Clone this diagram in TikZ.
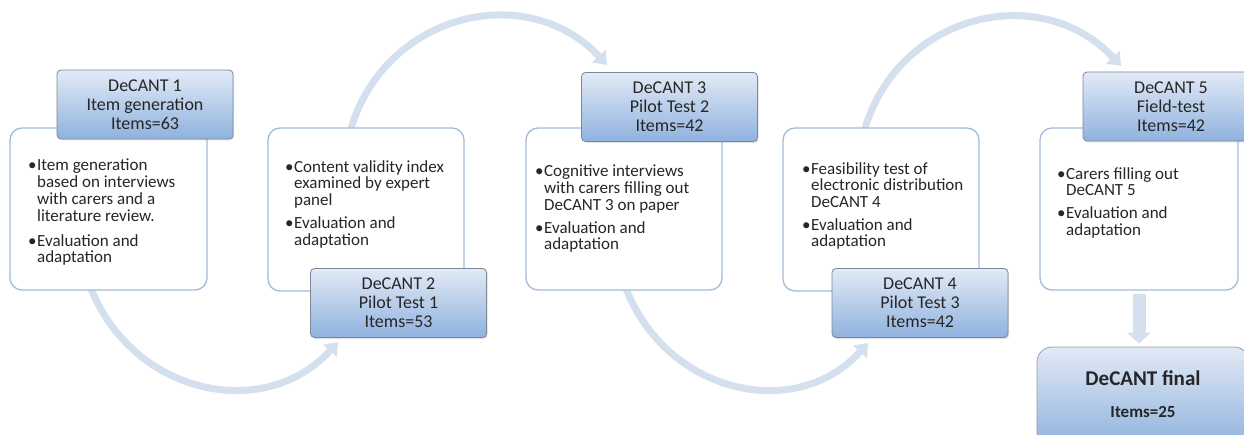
\documentclass[tikz,border=0pt]{standalone}
\usepackage{fontspec}
\setmainfont{Carlito}
\usetikzlibrary{arrows.meta,shadows}
\definecolor{arcblue}{HTML}{D5E0EF}
\definecolor{boxline}{HTML}{A3BBD8}
\definecolor{hdtop}{HTML}{E2EAF6}
\definecolor{hdbot}{HTML}{8FB2DE}
\definecolor{hdline}{HTML}{7A8898}
\definecolor{txt}{HTML}{262626}
\newcommand{\blist}[1]{\begin{tabular}{@{}l@{\hspace{0.5pt}}l@{}}#1\end{tabular}}
\tikzset{
  whitebox/.style={draw=boxline, line width=1.3pt, fill=white, rounded corners=12pt, inner sep=0pt},
  header/.style={draw=hdline, line width=0.8pt, rounded corners=4pt, top color=hdtop, bottom color=hdbot,
    minimum width=176pt, minimum height=69pt, inner sep=0pt, align=center, text=txt,
    font=\fontsize{18}{19}\selectfont,
    drop shadow={shadow xshift=1.2pt, shadow yshift=-1.5pt, opacity=0.25}},
  finalbox/.style={draw=hdline!80, line width=0.8pt, rounded corners=15pt, top color=hdtop, bottom color=hdbot,
    minimum width=212pt, minimum height=100pt, inner sep=0pt, align=center, text=txt},
  body/.style={anchor=north west, inner sep=0pt, text=txt, font=\fontsize{17}{16.6}\selectfont},
  arcarrow/.style={draw=arcblue, line width=7pt, -{Triangle[width=18pt,length=12pt]}},
  downarrow/.style={draw=arcblue, line width=13pt, -{Triangle[width=23pt,length=11pt]}},
}
\begin{document}
\begin{tikzpicture}[x=1pt,y=-1pt]
\useasboundingbox (0,0) rectangle (1244,435);
\clip (0,0) rectangle (1244,435);
\fill[white] (0,0) rectangle (1244,435);

% arc connector end points
\coordinate (s1) at (90,286);
\coordinate (t1) at (338,342);
\coordinate (s2) at (350,132);
\coordinate (t2) at (607,65);
\coordinate (s3) at (625,286);
\coordinate (t3) at (868,343);
\coordinate (s4) at (864,132);
\coordinate (t4) at (1121,66);

\draw[arcarrow] (s1) .. controls +(41.5,108) and +(-74.5,81.4) .. (t1);
\draw[arcarrow] (s2) .. controls +(32.4,-118) and +(-80.7,-86.7) .. (t2);
\draw[arcarrow] (s3) .. controls +(40.5,108) and +(-72,80) .. (t3);
\draw[arcarrow] (s4) .. controls +(32.4,-118) and +(-80.7,-86.7) .. (t4);

% white boxes
\node[whitebox, minimum width=197pt, minimum height=162pt] (b1) at (108.5,209) {};
\node[whitebox, minimum width=196pt, minimum height=163pt] (b2) at (366,209.5) {};
\node[whitebox, minimum width=196pt, minimum height=162pt] (b3) at (624,209) {};
\node[whitebox, minimum width=196pt, minimum height=163pt] (b4) at (881,209.5) {};
\node[whitebox, minimum width=198pt, minimum height=162pt] (b5) at (1139,209) {};

% body texts
\node[body] (x1) at (28,159) {\blist{\textbullet&Item generation\\&based on interviews\\&with carers and a\\&literature review.\\[8pt]\textbullet&Evaluation and\\&adaptation}};
\node[body] (x2) at (285,160) {\blist{\textbullet&Content validity index\\&examined by expert\\&panel\\[6pt]\textbullet&Evaluation and\\&adaptation}};
\node[body] (x3) at (535,165) {\blist{\textbullet&Cognitive interviews\\&with carers filling out\\&DeCANT 3 on paper\\[6pt]\textbullet&Evaluation and\\&adaptation}};
\node[body] (x4) at (802,162) {\blist{\textbullet&Feasibility test of\\&electronic distribution\\&DeCANT 4\\[6pt]\textbullet&Evaluation and\\&adaptation}};
\node[body] (x5) at (1057,167) {\blist{\textbullet&Carers filling out\\&DeCANT 5\\[6pt]\textbullet&Evaluation and\\&adaptation}};

% headers
\node[header] (h1) at (145,104.5) {DeCANT 1\\Item generation\\Items=63};
\node[header] (h2) at (398.5,303) {DeCANT 2\\Pilot Test 1\\Items=53};
\node[header] (h3) at (669.5,107) {DeCANT 3\\Pilot Test 2\\Items=42};
\node[header] (h4) at (920,303) {DeCANT 4\\Pilot Test 3\\Items=42};
\node[header] (h5) at (1171,106.5) {DeCANT 5\\Field-test\\Items=42};

% final
\node[finalbox] (fin) at (1143,397) {};
\node[text=txt, inner sep=0pt] (fint) at (1143,396) {\begin{tabular}{@{}c@{}}{\fontsize{21}{24}\selectfont\bfseries DeCANT final}\\[17pt]{\fontsize{17}{18}\selectfont\bfseries Items=25}\end{tabular}};

\draw[downarrow, shorten <=3pt] (b5.south) -- ([yshift=3pt]b5.south |- fin.north);
\end{tikzpicture}
\end{document}
